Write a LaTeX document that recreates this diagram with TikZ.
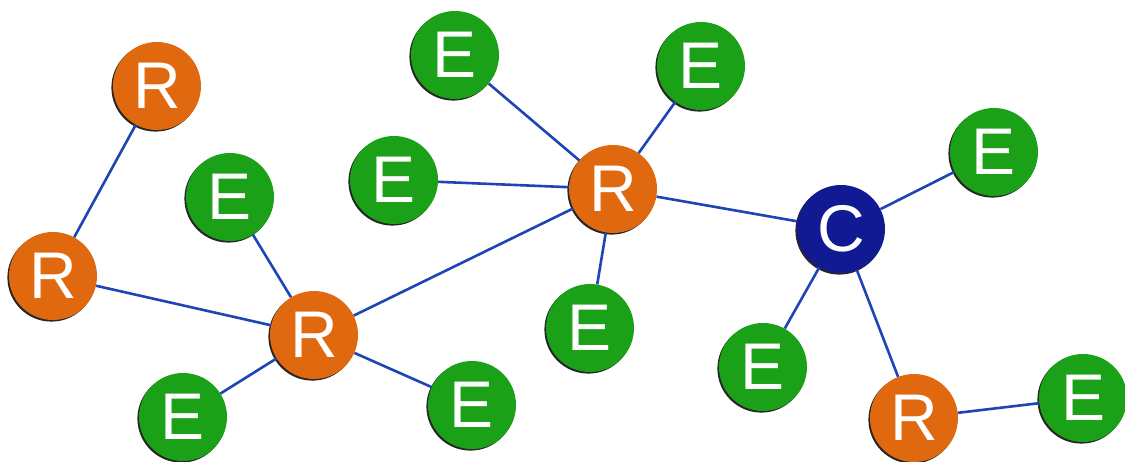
\documentclass[tikz,border=0pt]{standalone}
\usepackage{fontspec}
\usepackage{tikz}
\usetikzlibrary{shadows}
\newfontfamily\lettfont{Liberation Sans}
\definecolor{rorange}{HTML}{E0680E}
\definecolor{egreen}{HTML}{1BA118}
\definecolor{cnavy}{HTML}{111A92}
\definecolor{link}{HTML}{1E44B6}

\begin{document}
\begin{tikzpicture}[
  x=1pt, y=-1pt,
  every node/.style={font=\lettfont\fontsize{66}{66}\selectfont},
  ball/.style={circle, minimum size=88pt, inner sep=0pt, text=white,
               drop shadow={shadow xshift=-1.6pt, shadow yshift=-1.6pt,
                            fill=black!85, opacity=1}},
  rball/.style={ball, fill=rorange},
  eball/.style={ball, fill=egreen},
  cball/.style={ball, fill=cnavy},
  ln/.style={line width=2.6pt, draw=link}
]
\useasboundingbox (0,0) rectangle (1125,461);

% left branch
\node[rball] (rtop)  at (157,86)  {R};
\node[rball] (rleft) at (53,276)  {R};
\node[eball] (eup)   at (230,197) {E};
\node[rball] (rmid)  at (314,335) {R};
\node[eball] (elow)  at (183,417) {E};
\node[eball] (ebot)  at (472,405) {E};

% central hub
\node[rball] (rhub)  at (613,189) {R};
\node[eball] (etop)  at (455,55)  {E};
\node[eball] (etr)   at (701,66)  {E};
\node[eball] (eleft) at (394,180) {E};
\node[eball] (eund)  at (590,328) {E};

% right branch
\node[cball] (c)     at (841,229) {C};
\node[eball] (ec1)   at (994,152) {E};
\node[eball] (ec2)   at (763,367) {E};
\node[rball] (rlow)  at (914,418) {R};
\node[eball] (eend)  at (1083,398) {E};

\draw[ln] (rtop) -- (rleft);
\draw[ln] (rleft) -- (rmid);
\draw[ln] (eup) -- (rmid);
\draw[ln] (elow) -- (rmid);
\draw[ln] (rmid) -- (ebot);
\draw[ln] (rmid) -- (rhub);
\draw[ln] (etop) -- (rhub);
\draw[ln] (etr) -- (rhub);
\draw[ln] (eleft) -- (rhub);
\draw[ln] (eund) -- (rhub);
\draw[ln] (rhub) -- (c);
\draw[ln] (c) -- (ec1);
\draw[ln] (c) -- (ec2);
\draw[ln] (c) -- (rlow);
\draw[ln] (rlow) -- (eend);
\end{tikzpicture}
\end{document}
